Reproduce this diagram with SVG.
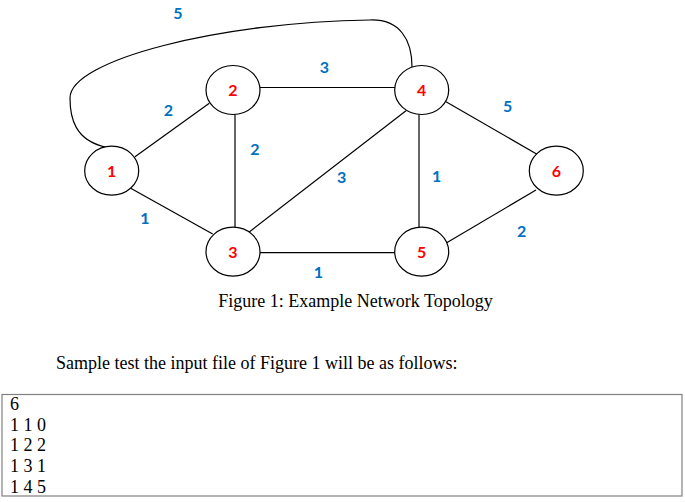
<svg xmlns="http://www.w3.org/2000/svg" width="685" height="502" viewBox="0 0 685 502">
<style>
.edge{stroke:#000;stroke-width:1.2;fill:none}
.node ellipse{fill:#fff;stroke:#000;stroke-width:1.2}
.nl{font-family:Lato,"Open Sans",sans-serif;font-weight:bold;font-size:16px;fill:#ff0000;text-anchor:middle}
.wl{font-family:Lato,"Open Sans",sans-serif;font-weight:bold;font-size:16px;fill:#0070c0;text-anchor:middle}
.tx{font-family:"Liberation Serif","Times New Roman",serif;font-size:18px;fill:#000}
</style>
<rect width="685" height="502" fill="#fff"/>
<g id="connectors">
<path class="edge" d="M105,147 C75,140 70,118 70,98 C70,60 220,22 370,20 C400,19 412,40 412,67"/>
<line class="edge" x1="260" y1="87.5" x2="395" y2="87.5"/>
<line class="edge" x1="235" y1="114" x2="235" y2="228"/>
<line class="edge" x1="419" y1="114" x2="419" y2="228"/>
<line class="edge" x1="260" y1="252.7" x2="395" y2="252.7"/>
<line class="edge" x1="135" y1="156.7" x2="209.3" y2="103.3"/>
<line class="edge" x1="130.7" y1="188.3" x2="212.7" y2="234"/>
<line class="edge" x1="248.3" y1="232.7" x2="406" y2="110.7"/>
<line class="edge" x1="446" y1="101.7" x2="540" y2="156"/>
<line class="edge" x1="446.7" y1="242.7" x2="536" y2="190"/>
</g>
<g id="weights">
<text class="wl" x="178" y="18.5">5</text>
<text class="wl" x="324.3" y="72.5">3</text>
<text class="wl" x="168.3" y="116">2</text>
<text class="wl" x="255" y="155">2</text>
<text class="wl" x="341.7" y="182.5">3</text>
<text class="wl" x="507.7" y="111.5">5</text>
<text class="wl" x="436.7" y="181.5">1</text>
<text class="wl" x="145" y="224">1</text>
<text class="wl" x="521.7" y="236.5">2</text>
<text class="wl" x="318.3" y="278">1</text>
</g>
<g id="node1" class="node"><ellipse cx="111.7" cy="170.7" rx="27" ry="24.5"/><text class="nl" x="111.7" y="176.5">1</text></g>
<g id="node2" class="node"><ellipse cx="233" cy="90" rx="27" ry="24.5"/><text class="nl" x="233" y="95.8">2</text></g>
<g id="node3" class="node"><ellipse cx="233" cy="251.7" rx="27" ry="24.5"/><text class="nl" x="233" y="257.5">3</text></g>
<g id="node4" class="node"><ellipse cx="421.7" cy="90" rx="27" ry="24.5"/><text class="nl" x="421.7" y="95.8">4</text></g>
<g id="node5" class="node"><ellipse cx="421.7" cy="251.7" rx="27" ry="24.5"/><text class="nl" x="421.7" y="257.5">5</text></g>
<g id="node6" class="node"><ellipse cx="556.3" cy="170.7" rx="27" ry="24.5"/><text class="nl" x="556.3" y="176.5">6</text></g>
<text class="tx" x="355.5" y="307" text-anchor="middle">Figure 1: Example Network Topology</text>
<text class="tx" x="56" y="369">Sample test the input file of Figure 1 will be as follows:</text>
<rect x="2" y="394.5" width="680" height="101.5" fill="none" stroke="#808080" stroke-width="1.2"/>
<text class="tx" x="10" y="410">6</text>
<text class="tx" x="10" y="431">1 1 0</text>
<text class="tx" x="10" y="451">1 2 2</text>
<text class="tx" x="10" y="472">1 3 1</text>
<text class="tx" x="10" y="493">1 4 5</text>
</svg>
